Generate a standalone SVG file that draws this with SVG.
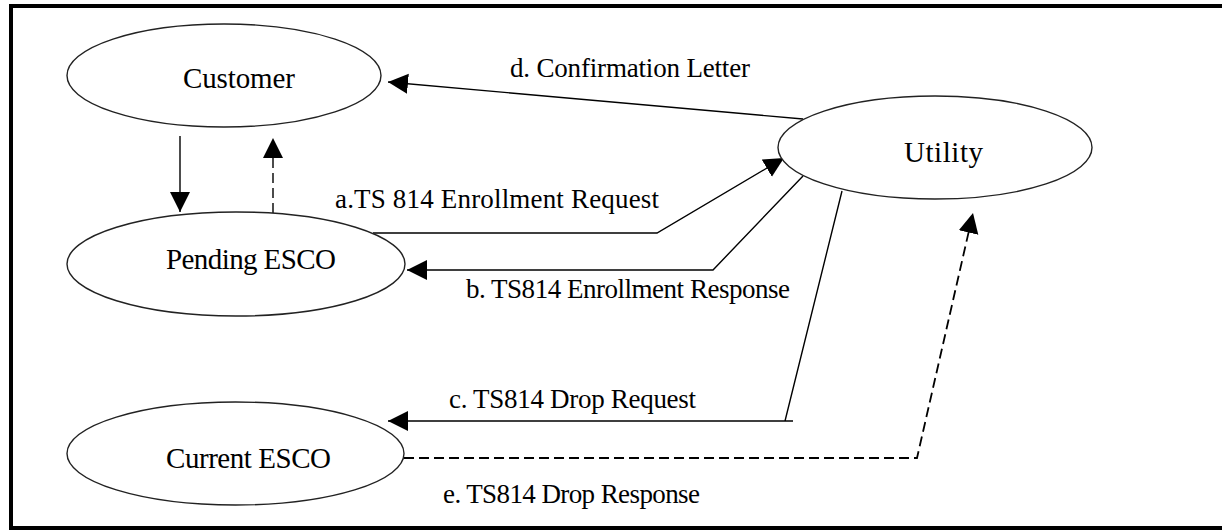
<svg xmlns="http://www.w3.org/2000/svg" width="1222" height="531" viewBox="0 0 1222 531">
  <style>
    .node { fill: #ffffff; stroke: #222222; stroke-width: 1.4; }
    .nlabel { font-family: "Liberation Serif", "Times New Roman", serif; font-size: 29px; fill: #000000; }
    .elabel { font-family: "Liberation Serif", "Times New Roman", serif; font-size: 27px; fill: #000000; }
    .conn { fill: none; stroke: #000000; stroke-width: 1.4; }
    .dash { stroke-dasharray: 10 5; }
    .thick { stroke-width: 1.8; }
  </style>
  <defs>
    <marker id="arrow" markerUnits="userSpaceOnUse" markerWidth="22" markerHeight="22" refX="20" refY="10" orient="auto">
      <path d="M0,0 L20,10 L0,20 Z" fill="#000000"/>
    </marker>
  </defs>
  <rect x="0" y="0" width="1222" height="531" fill="#ffffff"/>
  <rect id="frame" x="11" y="6" width="1222" height="522" fill="none" stroke="#000000" stroke-width="4"/>

  <g id="connectors">
    <line id="cust-to-pending" class="conn" x1="180" y1="136" x2="180" y2="212" marker-end="url(#arrow)"/>
    <line id="pending-to-cust" class="conn dash" x1="273" y1="213" x2="273" y2="138" marker-end="url(#arrow)"/>
    <line id="conf-letter" class="conn" x1="803" y1="119" x2="388" y2="82" marker-end="url(#arrow)"/>
    <polyline id="enroll-req" class="conn" points="373,233 657,233 784,158" marker-end="url(#arrow)"/>
    <polyline id="enroll-resp" class="conn" points="803,176 713,270 407,270" marker-end="url(#arrow)"/>
    <path id="drop-req" class="conn" d="M842,191 L785,421 M793,421 L388,421" marker-end="url(#arrow)"/>
    <polyline id="drop-resp" class="conn dash thick" points="404,458 917,458 973,213" marker-end="url(#arrow)"/>
    <text class="elabel" x="510" y="77" textLength="240" lengthAdjust="spacing">d. Confirmation Letter</text>
    <text class="elabel" x="335" y="208" textLength="324" lengthAdjust="spacing">a.TS 814 Enrollment Request</text>
    <text class="elabel" x="466" y="298" textLength="324" lengthAdjust="spacing">b. TS814 Enrollment Response</text>
    <text class="elabel" x="449" y="408" textLength="247" lengthAdjust="spacing">c. TS814 Drop Request</text>
    <text class="elabel" x="443" y="503" textLength="257" lengthAdjust="spacing">e. TS814 Drop Response</text>
  </g>

  <g id="customer">
    <ellipse class="node" cx="224" cy="75.5" rx="157" ry="51.5"/>
    <text class="nlabel" x="183" y="88" textLength="112" lengthAdjust="spacing">Customer</text>
  </g>
  <g id="pending-esco">
    <ellipse class="node" cx="236" cy="264" rx="169" ry="52"/>
    <text class="nlabel" x="166" y="269" textLength="170" lengthAdjust="spacing">Pending ESCO</text>
  </g>
  <g id="current-esco">
    <ellipse class="node" cx="235.5" cy="453.5" rx="168.5" ry="51.5"/>
    <text class="nlabel" x="166" y="468" textLength="165" lengthAdjust="spacing">Current ESCO</text>
  </g>
  <g id="utility">
    <ellipse class="node" cx="935" cy="147.5" rx="157" ry="51.5"/>
    <text class="nlabel" x="904" y="162" textLength="79" lengthAdjust="spacing">Utility</text>
  </g>
</svg>
